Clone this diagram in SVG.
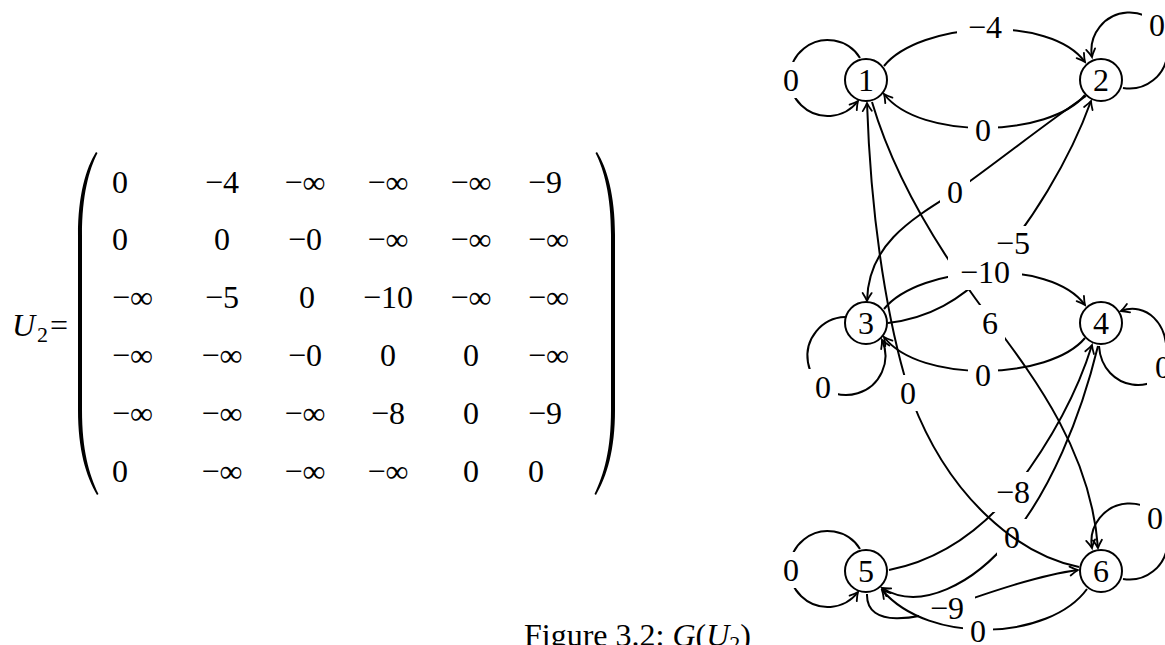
<svg xmlns="http://www.w3.org/2000/svg" width="1165" height="645" viewBox="0 0 1165 645">
<style>
text{font-family:"Liberation Serif","Times New Roman",serif;font-size:32px;fill:#000}
.c{text-anchor:middle}
.i{font-style:italic}
.e{fill:none;stroke:#000;stroke-width:2;marker-end:url(#arr)}
.nd circle{fill:#fff;stroke:#000;stroke-width:2}
.mw{fill:#fff}
.mb{fill:#000}
</style>
<defs>
<marker id="arr" viewBox="-10 -6 12 12" refX="0" refY="0" markerWidth="12" markerHeight="12" markerUnits="userSpaceOnUse" orient="auto">
<path d="M-8,-4.5 Q-3,-1.2 0,0 Q-3,1.2 -8,4.5" fill="none" stroke="#000" stroke-width="1.8" stroke-linecap="round"/>
</marker>
<mask id="m11" maskUnits="userSpaceOnUse" x="0" y="0" width="1165" height="645"><rect class="mw" width="1165" height="645"/><rect class="mb" x="776" y="62" width="30" height="36"/></mask>
<mask id="m12" maskUnits="userSpaceOnUse" x="0" y="0" width="1165" height="645"><rect class="mw" width="1165" height="645"/><rect class="mb" x="957" y="9" width="56" height="36"/></mask>
<mask id="m16" maskUnits="userSpaceOnUse" x="0" y="0" width="1165" height="645"><rect class="mw" width="1165" height="645"/><rect class="mb" x="975" y="305" width="30" height="36"/><rect class="mb" x="948" y="254" width="74" height="36"/></mask>
<mask id="m21" maskUnits="userSpaceOnUse" x="0" y="0" width="1165" height="645"><rect class="mw" width="1165" height="645"/><rect class="mb" x="968" y="112" width="30" height="36"/></mask>
<mask id="m22" maskUnits="userSpaceOnUse" x="0" y="0" width="1165" height="645"><rect class="mw" width="1165" height="645"/><rect class="mb" x="1142" y="7" width="30" height="36"/></mask>
<mask id="m23" maskUnits="userSpaceOnUse" x="0" y="0" width="1165" height="645"><rect class="mw" width="1165" height="645"/><rect class="mb" x="940" y="174" width="30" height="36"/></mask>
<mask id="m32" maskUnits="userSpaceOnUse" x="0" y="0" width="1165" height="645"><rect class="mw" width="1165" height="645"/><rect class="mb" x="985" y="226" width="56" height="36"/><rect class="mb" x="948" y="254" width="74" height="36"/></mask>
<mask id="m33" maskUnits="userSpaceOnUse" x="0" y="0" width="1165" height="645"><rect class="mw" width="1165" height="645"/><rect class="mb" x="808" y="369" width="30" height="36"/></mask>
<mask id="m34" maskUnits="userSpaceOnUse" x="0" y="0" width="1165" height="645"><rect class="mw" width="1165" height="645"/><rect class="mb" x="948" y="254" width="74" height="36"/></mask>
<mask id="m43" maskUnits="userSpaceOnUse" x="0" y="0" width="1165" height="645"><rect class="mw" width="1165" height="645"/><rect class="mb" x="968" y="357" width="30" height="36"/></mask>
<mask id="m44" maskUnits="userSpaceOnUse" x="0" y="0" width="1165" height="645"><rect class="mw" width="1165" height="645"/><rect class="mb" x="1147" y="349" width="30" height="36"/></mask>
<mask id="m45" maskUnits="userSpaceOnUse" x="0" y="0" width="1165" height="645"><rect class="mw" width="1165" height="645"/><rect class="mb" x="997" y="519" width="30" height="36"/></mask>
<mask id="m54" maskUnits="userSpaceOnUse" x="0" y="0" width="1165" height="645"><rect class="mw" width="1165" height="645"/><rect class="mb" x="985" y="472" width="56" height="40"/></mask>
<mask id="m55" maskUnits="userSpaceOnUse" x="0" y="0" width="1165" height="645"><rect class="mw" width="1165" height="645"/><rect class="mb" x="776" y="552" width="30" height="36"/></mask>
<mask id="m56" maskUnits="userSpaceOnUse" x="0" y="0" width="1165" height="645"><rect class="mw" width="1165" height="645"/><rect class="mb" x="919" y="590" width="56" height="36"/></mask>
<mask id="m61" maskUnits="userSpaceOnUse" x="0" y="0" width="1165" height="645"><rect class="mw" width="1165" height="645"/><rect class="mb" x="893" y="375" width="30" height="36"/></mask>
<mask id="m65" maskUnits="userSpaceOnUse" x="0" y="0" width="1165" height="645"><rect class="mw" width="1165" height="645"/><rect class="mb" x="963" y="614" width="30" height="36"/></mask>
<mask id="m66" maskUnits="userSpaceOnUse" x="0" y="0" width="1165" height="645"><rect class="mw" width="1165" height="645"/><rect class="mb" x="1140" y="500" width="30" height="36"/></mask>
</defs>
<rect width="1165" height="645" fill="#fff"/>

<g id="matrix">
<text x="12" y="336" class="i">U</text><text x="37" y="342" style="font-size:22px">2</text><text x="50" y="336">=</text>
<path d="M96,152 C86,168 78,195 78,235 L78,410 C78,450 86,476 97,495 L98.5,494 C89,474 82,450 82,410 L82,235 C82,195 89,170 97.5,153 Z" fill="#000"/>
<path d="M597,152 C607,168 615,195 615,235 L615,410 C615,450 607,476 596,495 L594.5,494 C604,474 611,450 611,410 L611,235 C611,195 604,170 595.5,153 Z" fill="#000"/>
<g>
<text x="112" y="193">0</text><text x="222" y="193" class="c">−4</text><text x="305" y="193" class="c">−∞</text><text x="388" y="193" class="c">−∞</text><text x="471" y="193" class="c">−∞</text><text x="528" y="193">−9</text>
<text x="112" y="250">0</text><text x="222" y="250" class="c">0</text><text x="305" y="250" class="c">−0</text><text x="388" y="250" class="c">−∞</text><text x="471" y="250" class="c">−∞</text><text x="528" y="250">−∞</text>
<text x="112" y="308">−∞</text><text x="222" y="308" class="c">−5</text><text x="307" y="308" class="c">0</text><text x="388" y="308" class="c">−10</text><text x="471" y="308" class="c">−∞</text><text x="528" y="308">−∞</text>
<text x="112" y="366">−∞</text><text x="222" y="366" class="c">−∞</text><text x="305" y="366" class="c">−0</text><text x="388" y="366" class="c">0</text><text x="471" y="366" class="c">0</text><text x="528" y="366">−∞</text>
<text x="112" y="424">−∞</text><text x="222" y="424" class="c">−∞</text><text x="305" y="424" class="c">−∞</text><text x="388" y="424" class="c">−8</text><text x="471" y="424" class="c">0</text><text x="528" y="424">−9</text>
<text x="112" y="482">0</text><text x="222" y="482" class="c">−∞</text><text x="305" y="482" class="c">−∞</text><text x="388" y="482" class="c">−∞</text><text x="471" y="482" class="c">0</text><text x="528" y="482">0</text>
</g>
</g>

<g id="connectors">
<path id="e11" class="e" mask="url(#m11)" d="M860,58 A38,38 0 1 0 858,101"/>
<path id="e12" class="e" mask="url(#m12)" d="M884,66 C920,22 1050,14 1085,62"/>
<path id="e16" class="e" mask="url(#m16)" d="M872,102 C895,180 940,250 975,298 C1020,360 1090,440 1098,548"/>
<path id="e21" class="e" mask="url(#m21)" d="M1085,95 C1050,137 920,141 884,94"/>
<path id="e22" class="e" mask="url(#m22)" d="M1123,88 A38,38 0 1 0 1092,57"/>
<path id="e23" class="e" mask="url(#m23)" d="M1086,96 C1050,120 1000,160 955,192 C910,220 868,245 867,301"/>
<path id="e32" class="e" mask="url(#m32)" d="M888,323 C930,318 960,300 990,270 C1030,225 1070,160 1091,101"/>
<path id="e33" class="e" mask="url(#m33)" d="M845,317 A39,39 0 1 0 882,340"/>
<path id="e34" class="e" mask="url(#m34)" d="M884,309 C920,265 1050,257 1085,305"/>
<path id="e43" class="e" mask="url(#m43)" d="M1085,338 C1050,380 920,384 884,337"/>
<path id="e44" class="e" mask="url(#m44)" d="M1099,346 C1102,392 1162,398 1166,360 C1170,322 1145,302 1121,311"/>
<path id="e45" class="e" mask="url(#m45)" d="M1098,346 C1080,420 1050,490 1012,537 C974,584 920,612 882,588"/>
<path id="e54" class="e" mask="url(#m54)" d="M889,570 C940,560 980,530 1010,495 C1045,450 1075,400 1092,345"/>
<path id="e55" class="e" mask="url(#m55)" d="M860,549 A38,38 0 1 0 858,592"/>
<path id="e56" class="e" mask="url(#m56)" d="M867,594 C866,630 920,618 945,608 C990,592 1040,575 1078,570"/>
<path id="e61" class="e" mask="url(#m61)" d="M1079,567 C1020,555 950,500 912,400 C895,350 872,250 867,103"/>
<path id="e65" class="e" mask="url(#m65)" d="M1087,589 C1050,640 930,646 882,590"/>
<path id="e66" class="e" mask="url(#m66)" d="M1123,579 A38,38 0 1 0 1092,548"/>
</g>

<g id="labels">
<text x="791" y="91" class="c">0</text>
<text x="985" y="38" class="c">−4</text>
<text x="990" y="334" class="c">6</text>
<text x="983" y="141" class="c">0</text>
<text x="1157" y="36" class="c">0</text>
<text x="955" y="203" class="c">0</text>
<text x="1013" y="254" class="c">−5</text>
<text x="823" y="398" class="c">0</text>
<text x="985" y="283" class="c">−10</text>
<text x="983" y="386" class="c">0</text>
<text x="1163" y="378" class="c">0</text>
<text x="1012" y="548" class="c">0</text>
<text x="1013" y="503" class="c">−8</text>
<text x="791" y="581" class="c">0</text>
<text x="947" y="619" class="c">−9</text>
<text x="908" y="404" class="c">0</text>
<text x="978" y="642" class="c">0</text>
<text x="1155" y="529" class="c">0</text>
</g>

<g id="n1" class="nd"><circle cx="866" cy="80" r="21"/><text x="866" y="91" class="c">1</text></g>
<g id="n2" class="nd"><circle cx="1101" cy="80" r="21"/><text x="1101" y="91" class="c">2</text></g>
<g id="n3" class="nd"><circle cx="866" cy="323" r="21"/><text x="866" y="334" class="c">3</text></g>
<g id="n4" class="nd"><circle cx="1101" cy="323" r="21"/><text x="1101" y="334" class="c">4</text></g>
<g id="n5" class="nd"><circle cx="866" cy="571" r="21"/><text x="866" y="582" class="c">5</text></g>
<g id="n6" class="nd"><circle cx="1101" cy="571" r="21"/><text x="1101" y="582" class="c">6</text></g>

<text id="caption" x="524" y="646">Figure 3.2: <tspan class="i">G</tspan>(<tspan class="i">U</tspan><tspan style="font-size:22px" dy="5">2</tspan><tspan dy="-5">)</tspan></text>
</svg>
